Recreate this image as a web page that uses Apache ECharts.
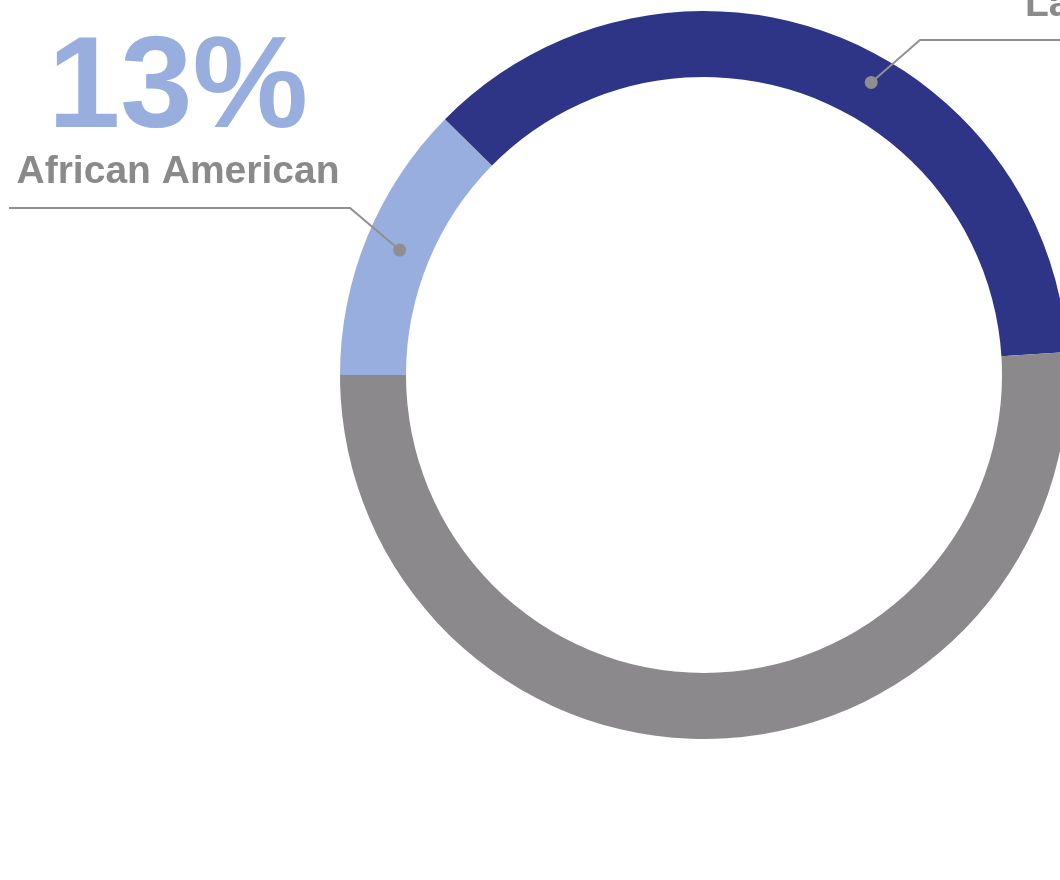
<!DOCTYPE html>
<html>
<head>
<meta charset="utf-8">
<style>
  html, body { margin: 0; padding: 0; background: #ffffff; }
  #chart { width: 1060px; height: 880px; }
</style>
<script src="https://cdn.jsdelivr.net/npm/echarts@6/dist/echarts.min.js"></script>
</head>
<body>
<div id="chart"></div>
<script>
// ---- data ----
const categories = ['African American', 'Latino', 'Other'];
const shares = [12.4, 36.6, 51.0];          // slice sizes (percent of ring)
const shareLabels = ['13%', '37%', ''];      // printed percentages
const labelled = ['African American', 'Latino'];

const colors = ['#97aedf', '#2e3587', '#8b898c'];

const CX = 704, CY = 375, R_IN = 298, R_OUT = 364;
// where along each slice the leader dot sits, and its distance from the centre
const anchorFrac = { 'African American': 0.5, 'Latino': 0.57 };
const anchorRadius = { 'African American': 329, 'Latino': 337 };

// cumulative starts
const starts = [];
shares.reduce((acc, v, i) => { starts[i] = acc; return acc + v; }, 0);

function anchorValue(name) {
  const i = categories.indexOf(name);
  return starts[i] + shares[i] * anchorFrac[name];
}
function anchorPixel(name) {
  const theta = anchorValue(name) / 100 * 2 * Math.PI;   // clockwise from 9 o'clock
  const r = anchorRadius[name];
  return [CX - r * Math.cos(theta), CY - r * Math.sin(theta)];
}

const dotData = labelled.map(name => ({ name: name, value: [anchorRadius[name], anchorValue(name)] }));

const chart = echarts.init(document.getElementById('chart'), null, { renderer: 'canvas' });

const FONT = "'Liberation Sans', Arial, sans-serif";

const ringData = categories.map((c, i) => ({ name: c, value: shares[i], itemStyle: { color: colors[i] } }));
const labelData = categories.map((c, i) => {
  const item = { name: c, value: shares[i] };
  if (labelled.indexOf(c) < 0) { item.label = { show: false }; item.labelLine = { show: false }; }
  return item;
});

chart.setOption({
  animation: false,
  backgroundColor: '#ffffff',
  polar: { center: [CX, CY], radius: R_OUT },
  angleAxis: { type: 'value', min: 0, max: 100, startAngle: 180, clockwise: true, show: false },
  radiusAxis: { type: 'value', min: 0, max: R_OUT, show: false },
  series: [
    {
      // the coloured ring
      type: 'pie',
      z: 2,
      center: [CX, CY],
      radius: [R_IN, R_OUT],
      startAngle: 180,
      clockwise: true,
      silent: true,
      itemStyle: { borderWidth: 0 },
      emphasis: { disabled: true },
      label: { show: false },
      labelLine: { show: false },
      data: ringData
    },
    {
      // invisible copy carrying the labels and leader lines above the ring
      type: 'pie',
      z: 4,
      center: [CX, CY],
      radius: [R_IN, R_OUT],
      startAngle: 180,
      clockwise: true,
      silent: true,
      avoidLabelOverlap: false,
      itemStyle: { color: 'rgba(0,0,0,0)', borderWidth: 0 },
      emphasis: { disabled: true },
      label: {
        show: true,
        position: 'outside',
        formatter: p => '{pct|' + shareLabels[p.dataIndex] + '}\n{name|' + p.name + '}',
        rich: {
          pct: { fontFamily: FONT, fontWeight: 'bold', fontSize: 130, lineHeight: 118, color: '#97aedf' },
          name: { fontFamily: FONT, fontWeight: 'bold', fontSize: 39, lineHeight: 44, color: '#8a8a8a' }
        }
      },
      labelLine: { show: true, lineStyle: { color: '#909090', width: 2 } },
      labelLayout: function (params) {
        const name = categories[params.dataIndex];
        if (labelled.indexOf(name) < 0) return {};
        const d = anchorPixel(name);
        if (params.dataIndex === 0) {
          return {
            x: 178, y: 194.5, align: 'center', verticalAlign: 'bottom',
            labelLinePoints: [d, [350, 208], [9, 208]]
          };
        }
        return {
          x: 1025, y: 27.3, align: 'left', verticalAlign: 'bottom',
          labelLinePoints: [d, [920, 40], [1080, 40]]
        };
      },
      data: labelData
    },
    {
      type: 'scatter',
      coordinateSystem: 'polar',
      symbol: 'circle',
      symbolSize: 13,
      silent: true,
      itemStyle: { color: '#8e8e8e', opacity: 1 },
      z: 5,
      data: dotData
    }
  ]
});
</script>
</body>
</html>
